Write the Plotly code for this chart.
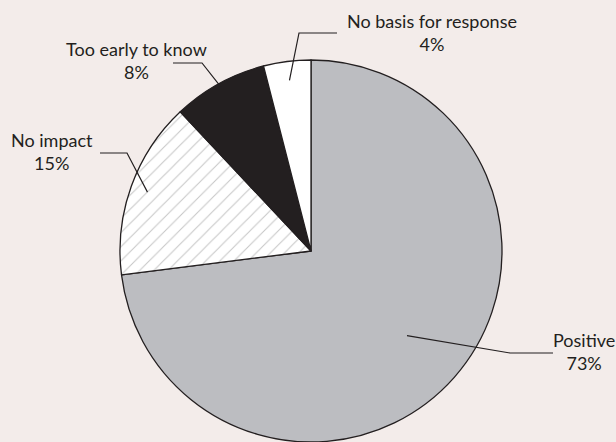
import math
import plotly.graph_objects as go

# ---- data ----
labels = ["Positive", "No impact", "Too early to know", "No basis for response"]
values = [73, 15, 8, 4]

# ---- style ----
BG = "#f3ecea"
INK = "#231f20"
fills = ["#bcbdc1", "#ffffff", "#231f20", "#ffffff"]
FONT = "Lato"
FS = 18

W_PX, H_PX = 616, 442
M = dict(l=6, r=0, t=60, b=0)
PW = W_PX - M["l"] - M["r"]
PH = H_PX - M["t"] - M["b"]
CX = M["l"] + PW / 2
CY = M["t"] + PH / 2
R = min(PW, PH) / 2

# label layout (pixel positions): inner radius fraction, knee, line end, text centre
label_layout = [
    dict(rf=0.67, knee=(510, 353), end=(553, 353), text=(584, 351)),
    dict(rf=0.91, knee=(127, 153), end=(100, 153), text=(52, 151)),
    dict(rf=0.98, knee=(202, 63), end=(173, 63), text=(136, 60)),
    dict(rf=0.90, knee=(299, 33), end=(337, 33), text=(432, 32)),
]


def px_to_paper(x, y):
    return (x - M["l"]) / PW, 1 - (y - M["t"]) / PH


fig = go.Figure(
    go.Pie(
        labels=labels,
        values=values,
        sort=False,
        direction="clockwise",
        rotation=0,
        textinfo="none",
        hoverinfo="label+percent",
        marker=dict(
            colors=fills,
            line=dict(color=INK, width=1.3),
            pattern=dict(
                shape=["", "/", "", ""],
                fgcolor="#8d8d8d",
                bgcolor=fills,
                size=10,
                solidity=0.1,
                fillmode="overlay",
            ),
        ),
        showlegend=False,
    )
)

total = sum(values)
shapes = []
annotations = []
cum = 0
for lab, v, lay in zip(labels, values, label_layout):
    mid = (cum + v / 2) / total
    cum += v
    theta = 2 * math.pi * mid
    ix = CX + lay["rf"] * R * math.sin(theta)
    iy = CY - lay["rf"] * R * math.cos(theta)
    pts = [(ix, iy), lay["knee"], lay["end"]]
    pp = [px_to_paper(*p) for p in pts]
    path = "M {} {} L {} {} L {} {}".format(
        pp[0][0], pp[0][1], pp[1][0], pp[1][1], pp[2][0], pp[2][1]
    )
    shapes.append(
        dict(type="path", xref="paper", yref="paper", path=path,
             line=dict(color=INK, width=1.2), layer="above")
    )
    tx, ty = px_to_paper(*lay["text"])
    pct = round(100 * v / total)
    annotations.append(
        dict(x=tx, y=ty, xref="paper", yref="paper",
             text=f"{lab}<br>{pct}%", showarrow=False,
             xanchor="center", yanchor="middle", align="center",
             font=dict(family=FONT, size=FS, color=INK))
    )

fig.update_layout(
    width=W_PX,
    height=H_PX,
    margin=M,
    paper_bgcolor=BG,
    plot_bgcolor=BG,
    shapes=shapes,
    annotations=annotations,
)

fig.write_html("out.html")
